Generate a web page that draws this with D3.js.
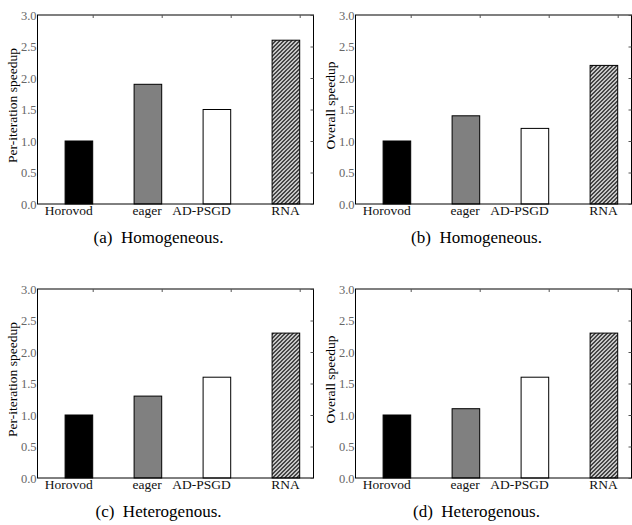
<!DOCTYPE html>
<html>
<head>
<meta charset="utf-8">
<script src="https://cdn.jsdelivr.net/npm/d3@7"></script>
<style>
  body { margin: 0; background: #fff; }
  svg { display: block; }
</style>
</head>
<body>
<svg id="chart" width="632" height="525"></svg>
<script>
// data
const categories = ["Horovod", "eager", "AD-PSGD", "RNA"];
const homoIter = [1.0, 1.9, 1.5, 2.6];
const homoOverall = [1.0, 1.4, 1.2, 2.2];
const heteroIter = [1.0, 1.3, 1.6, 2.3];
const heteroOverall = [1.0, 1.1, 1.6, 2.3];
const yTicks = [0.0, 0.5, 1.0, 1.5, 2.0, 2.5, 3.0];
const yLabels = ["Per-iteration speedup", "Overall speedup", "Per-iteration speedup", "Overall speedup"];
const captions = ["(a)\u2002Homogeneous.", "(b)\u2002Homogeneous.", "(c)\u2002Heterogenous.", "(d)\u2002Heterogenous."];

const fills = ["#000", "#808080", "#fff", "url(#hatch)"];
const serif = "Liberation Serif, serif";

const svg = d3.select("#chart");

// hatch for the RNA bar
const defs = svg.append("defs");
const pat = defs.append("pattern")
    .attr("id", "hatch")
    .attr("patternUnits", "userSpaceOnUse")
    .attr("width", 4).attr("height", 4);
pat.append("rect").attr("width", 4).attr("height", 4).attr("fill", "#fff");
pat.append("path")
    .attr("d", "M-1,1 l2,-2 M0,4 l4,-4 M3,5 l2,-2")
    .attr("stroke", "#000").attr("stroke-width", 1.3);

const W = 276, H = 189;

function drawPanel(left, top, values, ylabel, caption) {
    const g = svg.append("g").attr("transform", "translate(" + left + "," + top + ")");

    const x = d3.scaleLinear().domain([-0.6, 3.4]).range([0, W]);
    const y = d3.scaleLinear().domain([0, 3]).range([H, 0]);

    // bars
    g.selectAll("rect.bar")
        .data(values)
        .enter()
        .append("rect")
        .attr("class", "bar")
        .attr("x", (d, i) => x(i - 0.2))
        .attr("width", x(0.4) - x(0))
        .attr("y", d => y(d))
        .attr("height", d => H - y(d))
        .attr("fill", (d, i) => fills[i])
        .attr("stroke", "#000")
        .attr("stroke-width", 1);

    // frame
    g.append("rect")
        .attr("width", W).attr("height", H)
        .attr("fill", "none")
        .attr("stroke", "#000")
        .attr("stroke-width", 1);

    // y axis, gray labels
    const yAxis = g.append("g").call(d3.axisLeft(y).tickValues(yTicks).tickFormat(d3.format(".1f")).tickSize(0).tickPadding(1));
    yAxis.select(".domain").remove();
    yAxis.selectAll("text")
        .attr("font-family", serif)
        .attr("font-size", 12.5)
        .attr("fill", "#666");

    // mirrored inward ticks on the right
    g.append("g").attr("transform", "translate(" + W + ",0)")
        .call(d3.axisLeft(y).tickValues(yTicks).tickSize(3).tickFormat(""))
        .call(a => a.select(".domain").remove())
        .selectAll("line").attr("stroke", "#555");

    // x tick labels, right aligned at the bar's right edge
    g.selectAll("text.xl")
        .data(categories)
        .enter()
        .append("text")
        .attr("class", "xl")
        .attr("x", (d, i) => x(i + 0.2))
        .attr("y", H + 10.5)
        .attr("text-anchor", "end")
        .attr("font-family", serif)
        .attr("font-size", 13.5)
        .attr("fill", "#111")
        .text(d => d);

    // inward top ticks
    g.append("g")
        .call(d3.axisBottom(x).tickValues(categories.map((d, i) => i + 0.2)).tickSize(3).tickFormat(""))
        .call(a => a.select(".domain").remove())
        .selectAll("line").attr("stroke", "#555");

    // y label
    g.append("text")
        .attr("transform", "translate(" + (-21) + "," + (H / 2 - 4) + ") rotate(-90)")
        .attr("text-anchor", "middle")
        .attr("font-family", serif)
        .attr("font-size", 13.5)
        .attr("fill", "#000")
        .text(ylabel);

    // caption
    g.append("text")
        .attr("x", W / 2 - 17)
        .attr("y", H + 39)
        .attr("text-anchor", "middle")
        .attr("font-family", serif)
        .attr("font-size", 17)
        .attr("fill", "#000")
        .text(caption);
}

drawPanel(37.5, 15, homoIter, yLabels[0], captions[0]);
drawPanel(355.5, 15, homoOverall, yLabels[1], captions[1]);
drawPanel(37.5, 289, heteroIter, yLabels[2], captions[2]);
drawPanel(355.5, 289, heteroOverall, yLabels[3], captions[3]);
</script>
</body>
</html>
